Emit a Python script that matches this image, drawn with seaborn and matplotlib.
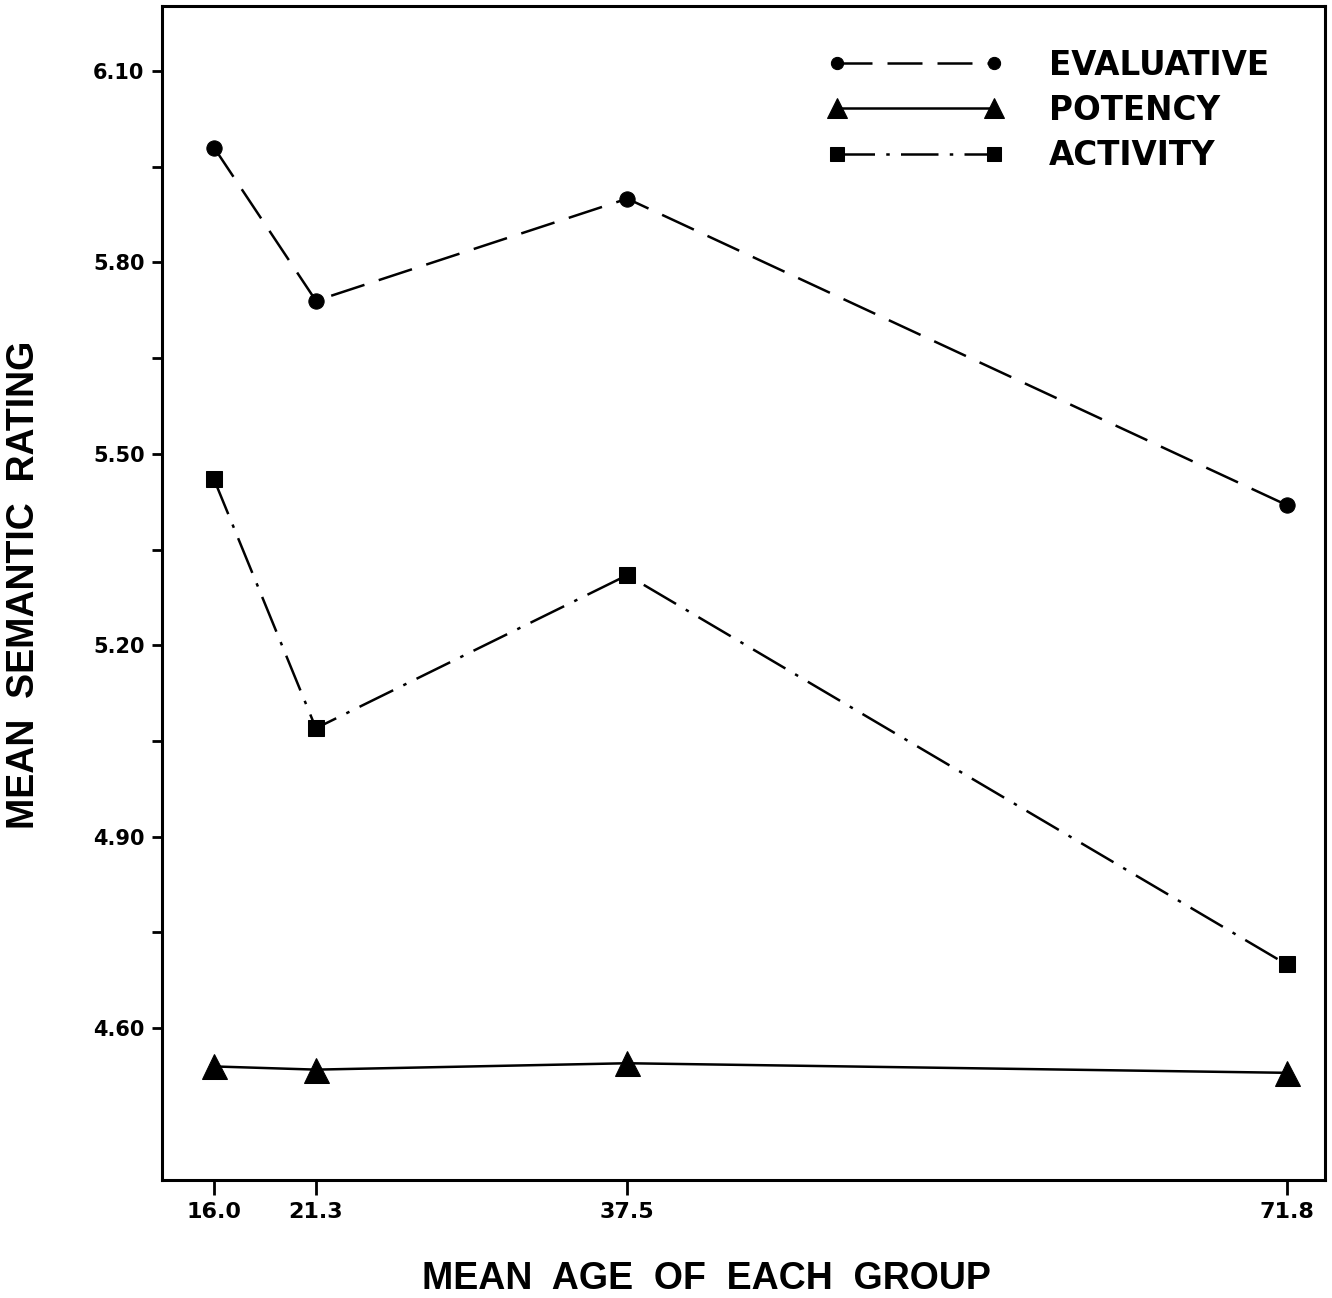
import matplotlib
matplotlib.use("Agg")
import matplotlib.pyplot as plt
import seaborn as sns
from matplotlib.ticker import FixedLocator

# Mean semantic ratings by age group
ages = [16.0, 21.3, 37.5, 71.8]
age_labels = ["16.0", "21.3", "37.5", "71.8"]
evaluative = [5.98, 5.74, 5.90, 5.42]
potency = [4.54, 4.535, 4.545, 4.53]
activity = [5.46, 5.07, 5.31, 4.70]
series_names = ["EVALUATIVE", "POTENCY", "ACTIVITY"]
y_ticks = [4.60, 4.90, 5.20, 5.50, 5.80, 6.10]
y_tick_labels = ["4.60", "4.90", "5.20", "5.50", "5.80", "6.10"]

sns.set_theme(style="ticks")
plt.rcParams["font.family"] = ["DejaVu Sans"]
plt.rcParams["text.color"] = "black"
plt.rcParams["axes.labelcolor"] = "black"

fig = plt.figure(figsize=(13.32, 12.98), dpi=100)
ax = fig.add_axes([0.1216, 0.0909, 0.8731, 0.9045])

styles = {
    "EVALUATIVE": dict(marker="o", ms=11, dashes=(14, 6)),
    "POTENCY": dict(marker="^", ms=18, dashes=None),
    "ACTIVITY": dict(marker="s", ms=12, dashes=(15, 4.5, 1.4, 4.5)),
}

handles = []
for name, vals in zip(series_names, [evaluative, potency, activity]):
    st = styles[name]
    sns.lineplot(x=ages, y=vals, ax=ax, color="black", lw=1.8,
                 marker=st["marker"], markersize=st["ms"],
                 markeredgecolor="black", markerfacecolor="black")
    line = ax.lines[-1]
    if st["dashes"]:
        line.set_dashes(st["dashes"])
    handles.append(line)

ax.set_xlim(13.29, 73.8)
ax.set_ylim(4.362, 6.202)

ax.set_xticks(ages, age_labels)
ax.set_yticks(y_ticks, y_tick_labels)
minor = [(a + b) / 2 for a, b in zip(y_ticks[:-1], y_ticks[1:])]
ax.yaxis.set_minor_locator(FixedLocator(minor))

for side in ["left", "right", "top", "bottom"]:
    ax.spines[side].set_visible(True)
    ax.spines[side].set_linewidth(2.2)
    ax.spines[side].set_color("black")

ax.tick_params(axis="y", which="both", direction="out", length=7.5, width=2.0,
               pad=5, labelsize=15, colors="black")
ax.tick_params(axis="x", which="major", direction="out", length=11, width=2.0,
               pad=5, labelsize=16, colors="black")
for lab in ax.get_xticklabels() + ax.get_yticklabels():
    lab.set_fontweight("bold")

label_font = dict(family=["Liberation Sans", "DejaVu Sans"], weight="bold",
                  size=27, color="black")
ax.set_ylabel("MEAN  SEMANTIC  RATING", **label_font)
ax.yaxis.set_label_coords(-0.103, 0.507)
ax.set_xlabel("MEAN  AGE  OF  EACH  GROUP", **label_font)
ax.xaxis.set_label_coords(0.468, -0.069)

leg = ax.legend(handles, series_names, numpoints=2, loc="upper left",
                bbox_to_anchor=(0.572, 0.9635), frameon=False,
                prop=dict(family="DejaVu Sans", weight="bold", size=23.5),
                handlelength=5.4, handletextpad=1.4, labelspacing=0.37,
                borderpad=0, borderaxespad=0, markerscale=0.8)
for t in leg.get_texts():
    t.set_color("black")

fig.savefig("out.png", dpi=100)
